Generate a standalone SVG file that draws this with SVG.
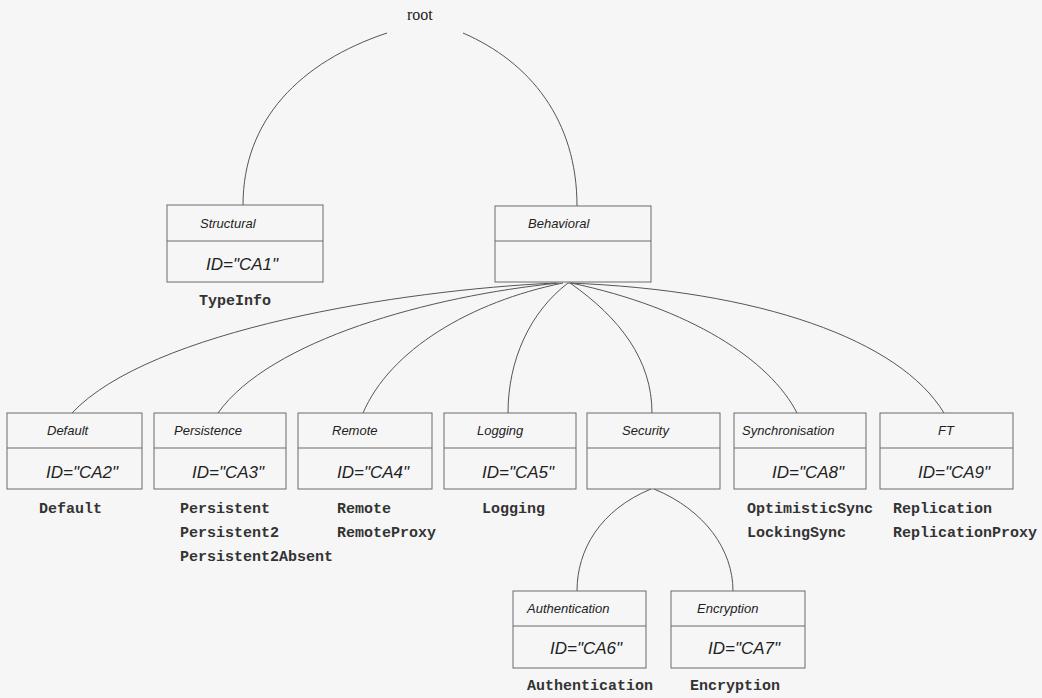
<svg xmlns="http://www.w3.org/2000/svg" width="1042" height="698" viewBox="0 0 1042 698">
  <style>
    .box { fill: none; stroke: #6a6a6a; stroke-width: 1; }
    .div { stroke: #6a6a6a; stroke-width: 1; }
    .hdr { font-family: "Liberation Sans", Arial, sans-serif; font-style: italic; font-size: 13px; fill: #222; }
    .id { font-family: "Liberation Sans", Arial, sans-serif; font-style: italic; font-size: 17px; fill: #222; }
    .lbl { font-family: "Liberation Mono", "Courier New", monospace; font-weight: bold; font-size: 15px; fill: #333; }
    .root { font-family: "Liberation Serif", "Times New Roman", serif; font-size: 16px; fill: #222; }
    .edge { fill: none; stroke: #555; stroke-width: 1; }
  </style>
  <rect width="1042" height="698" fill="#f6f6f6"/>

  <!-- tree edges -->
  <g id="connectors">
    <path class="edge" d="M387,33 C300,62 243,120 243,205"/>
    <path class="edge" d="M463,33 C530,62 577,120 577,206"/>
    <path class="edge" d="M556,283 C400,290 150,330 72,413"/>
    <path class="edge" d="M559,283 C430,296 270,340 218,413"/>
    <path class="edge" d="M563,283 C470,302 390,350 363,413"/>
    <path class="edge" d="M568,283 C530,312 508,360 508,413"/>
    <path class="edge" d="M570,283 C620,318 652,360 652,413"/>
    <path class="edge" d="M571,283 C690,308 770,360 797,413"/>
    <path class="edge" d="M568,283 C760,290 900,340 944,413"/>
    <path class="edge" d="M651,489 C600,510 577,550 577,591"/>
    <path class="edge" d="M654,489 C705,510 733,550 733,591"/>
  </g>

  <g id="root"><text class="root" x="407" y="20">root</text></g>

  <g id="structural">
    <rect class="box" x="167" y="205" width="156" height="77"/>
    <line class="div" x1="167" y1="241" x2="323" y2="241"/>
    <text class="hdr" x="200" y="228">Structural</text>
    <text class="id" x="206" y="270">ID="CA1"</text>
    <text class="lbl" x="199" y="305">TypeInfo</text>
  </g>

  <g id="behavioral">
    <rect class="box" x="495" y="206" width="156" height="76"/>
    <line class="div" x1="495" y1="241" x2="651" y2="241"/>
    <text class="hdr" x="528" y="228">Behavioral</text>
  </g>

  <g id="default">
    <rect class="box" x="7" y="413" width="135" height="76"/>
    <line class="div" x1="7" y1="448" x2="142" y2="448"/>
    <text class="hdr" x="47" y="435">Default</text>
    <text class="id" x="46" y="478">ID="CA2"</text>
    <text class="lbl" x="39" y="513">Default</text>
  </g>

  <g id="persistence">
    <rect class="box" x="154" y="413" width="132" height="76"/>
    <line class="div" x1="154" y1="448" x2="286" y2="448"/>
    <text class="hdr" x="174" y="435">Persistence</text>
    <text class="id" x="192" y="478">ID="CA3"</text>
    <text class="lbl" x="180" y="513">Persistent</text>
    <text class="lbl" x="180" y="537">Persistent2</text>
    <text class="lbl" x="180" y="561">Persistent2Absent</text>
  </g>

  <g id="remote">
    <rect class="box" x="298" y="413" width="134" height="76"/>
    <line class="div" x1="298" y1="448" x2="432" y2="448"/>
    <text class="hdr" x="332" y="435">Remote</text>
    <text class="id" x="337" y="478">ID="CA4"</text>
    <text class="lbl" x="337" y="513">Remote</text>
    <text class="lbl" x="337" y="537">RemoteProxy</text>
  </g>

  <g id="logging">
    <rect class="box" x="444" y="413" width="132" height="76"/>
    <line class="div" x1="444" y1="448" x2="576" y2="448"/>
    <text class="hdr" x="477" y="435">Logging</text>
    <text class="id" x="482" y="478">ID="CA5"</text>
    <text class="lbl" x="482" y="513">Logging</text>
  </g>

  <g id="security">
    <rect class="box" x="587" y="413" width="133" height="76"/>
    <line class="div" x1="587" y1="448" x2="720" y2="448"/>
    <text class="hdr" x="622" y="435">Security</text>
  </g>

  <g id="synchronisation">
    <rect class="box" x="734" y="413" width="132" height="76"/>
    <line class="div" x1="734" y1="448" x2="866" y2="448"/>
    <text class="hdr" x="742" y="435">Synchronisation</text>
    <text class="id" x="772" y="478">ID="CA8"</text>
    <text class="lbl" x="747" y="513">OptimisticSync</text>
    <text class="lbl" x="747" y="537">LockingSync</text>
  </g>

  <g id="ft">
    <rect class="box" x="880" y="413" width="133" height="76"/>
    <line class="div" x1="880" y1="448" x2="1013" y2="448"/>
    <text class="hdr" x="938" y="435">FT</text>
    <text class="id" x="918" y="478">ID="CA9"</text>
    <text class="lbl" x="893" y="513">Replication</text>
    <text class="lbl" x="893" y="537">ReplicationProxy</text>
  </g>

  <g id="authentication">
    <rect class="box" x="513" y="591" width="133" height="77"/>
    <line class="div" x1="513" y1="626" x2="646" y2="626"/>
    <text class="hdr" x="527" y="613">Authentication</text>
    <text class="id" x="550" y="654">ID="CA6"</text>
    <text class="lbl" x="527" y="690">Authentication</text>
  </g>

  <g id="encryption">
    <rect class="box" x="671" y="591" width="134" height="77"/>
    <line class="div" x1="671" y1="626" x2="805" y2="626"/>
    <text class="hdr" x="697" y="613">Encryption</text>
    <text class="id" x="708" y="654">ID="CA7"</text>
    <text class="lbl" x="690" y="690">Encryption</text>
  </g>
</svg>
